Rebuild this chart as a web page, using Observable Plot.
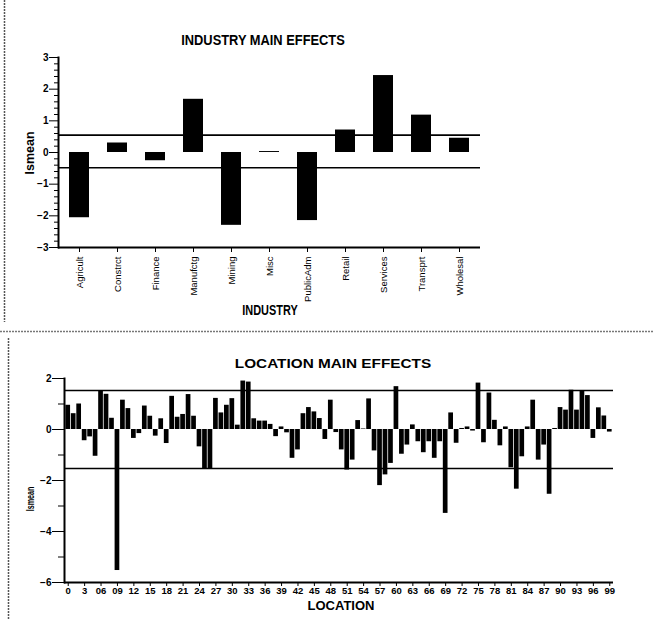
<!DOCTYPE html>
<html>
<head>
<meta charset="utf-8">
<script src="https://cdn.jsdelivr.net/npm/d3@7"></script>
<script src="https://cdn.jsdelivr.net/npm/@observablehq/plot@0.6"></script>
<style>
  html, body { margin: 0; padding: 0; background: #fff; }
  #page { position: relative; width: 654px; height: 619px; overflow: hidden; background: #fff; }
  #page svg.plot { position: absolute; left: 0; }
  #top { top: 0; }
  #bottom { top: 330px; }
  #overlay { position: absolute; left: 0; top: 0; pointer-events: none; }
</style>
</head>
<body>
<div id="page">
  <svg id="overlay" width="654" height="619" xmlns="http://www.w3.org/2000/svg"
       font-family="'Liberation Sans', Arial, sans-serif" font-weight="bold" fill="#000">
    <line x1="4.5" y1="0" x2="4.5" y2="322" stroke="#555" stroke-width="1.5" stroke-dasharray="2 1"/>
    <line x1="0" y1="331.5" x2="654" y2="331.5" stroke="#777" stroke-width="1.5" stroke-dasharray="2 1"/>
    <line x1="8.5" y1="338" x2="8.5" y2="619" stroke="#555" stroke-width="1.5" stroke-dasharray="2 1"/>
    <text transform="translate(263,44.5) scale(0.83,1)" text-anchor="middle" font-size="15.5">INDUSTRY MAIN EFFECTS</text>
    <text transform="translate(34,153) rotate(-90)" text-anchor="middle" font-size="12.5">lsmean</text>
    <text transform="translate(270,315) scale(0.78,1)" text-anchor="middle" font-size="14">INDUSTRY</text>
    <text transform="translate(333,367.5) scale(1.18,1)" text-anchor="middle" font-size="13">LOCATION MAIN EFFECTS</text>
    <text transform="translate(33.5,499) rotate(-90) scale(0.65,1)" text-anchor="middle" font-size="11">lsmean</text>
    <text transform="translate(341,610)" text-anchor="middle" font-size="13">LOCATION</text>
  </svg>
</div>
<script>
// ---------- INDUSTRY MAIN EFFECTS ----------
const industries = ["Agricult", "Constrct", "Finance", "Manufctg", "Mining", "Misc",
                    "PublicAdm", "Retail", "Services", "Transprt", "Wholesal"];
const industryLsmean = [-2.06, 0.30, -0.26, 1.68, -2.30, 0.03, -2.15, 0.71, 2.43, 1.18, 0.45];
const industryRefLines = [0.55, -0.48];
const industryYTicks = [-3, -2, -1, 0, 1, 2, 3];
const industryYMinorTicks = [-2.8, -2.6, -2.4, -2.2, -1.8, -1.6, -1.4, -1.2, -0.8, -0.6, -0.4, -0.2,
                             0.2, 0.4, 0.6, 0.8, 1.2, 1.4, 1.6, 1.8, 2.2, 2.4, 2.6, 2.8];

// ---------- LOCATION MAIN EFFECTS ----------
const locationIds = d3.range(100);
const locationLsmean = [
   0.95,  0.62,  1.00, -0.44, -0.29, -1.05,  1.50,  1.38,  0.44, -5.53,
   1.15,  0.82, -0.35, -0.16,  0.92,  0.52, -0.26,  0.42, -0.55,  1.30,
   0.48,  0.59,  1.37,  0.52, -0.68, -1.53, -1.53,  1.22,  0.65,  0.95,
   1.21,  0.17,  1.90,  1.86,  0.42,  0.33,  0.33,  0.20, -0.28,  0.10,
  -0.13, -1.13, -0.80,  0.62,  0.86,  0.69,  0.43, -0.39,  1.15, -0.12,
  -0.80, -1.59, -1.20,  0.35,  0.02,  1.20, -0.84, -2.20, -1.78, -1.33,
   1.68, -0.97, -0.61,  0.18, -0.48, -0.91, -0.48, -1.13, -0.48, -3.29,
   0.65, -0.54,  0.04,  0.10, -0.06,  1.82, -0.52,  1.43,  0.36, -0.64,
   0.10, -1.50, -2.34, -1.07,  0.10,  1.15, -1.20, -0.61, -2.54,  0.04,
   0.86,  0.76,  1.54,  0.76,  1.50,  1.33, -0.35,  0.85,  0.53, -0.10
];
const locationRefLines = [1.53, -1.53];
const locationTickIds = [0, 3, 6, 9, 12, 15, 18, 21, 24, 27, 30, 33, 36, 39, 42, 45, 48,
                         51, 54, 57, 60, 63, 66, 69, 72, 75, 78, 81, 84, 87, 90, 93, 96, 99];
const locationTickLabels = ["0", "3", "06", "09", "12", "15", "18", "21", "24", "27", "30", "33",
                            "36", "39", "42", "45", "48", "51", "54", "57", "60", "63", "66", "69",
                            "72", "75", "78", "81", "84", "87", "90", "93", "96", "99"];
const locationYTicks = [-6, -4, -2, 0, 2];
const locationYMinorTicks = [-5, -3, -1, 1];

const FONT = "'Liberation Sans', Arial, sans-serif";

const industryData = industries.map((name, i) => ({industry: name, lsmean: industryLsmean[i]}));
const locationData = locationIds.map((id, i) => ({location: id, lsmean: locationLsmean[i]}));

const blank = () => "";

const topChart = Plot.plot({
  width: 654, height: 330,
  marginTop: 57, marginBottom: 83, marginLeft: 58, marginRight: 174,
  style: {fontFamily: FONT, background: "transparent", color: "#000"},
  x: {type: "band", domain: industries, paddingInner: 0.48, paddingOuter: 0.26},
  y: {domain: [-3, 3]},
  marks: [
    Plot.barY(industryData, {x: "industry", y: "lsmean", fill: "black"}),
    Plot.ruleY(industryRefLines, {stroke: "black", strokeWidth: 1.6}),
    Plot.ruleY([-3], {stroke: "black", strokeWidth: 2}),
    Plot.frame({anchor: "left", stroke: "black", strokeWidth: 2}),
    Plot.axisY(industryYMinorTicks, {tickSize: 4, tickFormat: blank, label: null, stroke: "black"}),
    Plot.axisY(industryYTicks, {tickSize: 9, tickPadding: 1, fontSize: 10, fontWeight: "bold", label: null, stroke: "black"}),
    Plot.axisX({tickRotate: -90, tickSize: 5, tickPadding: 4, fontSize: 9.5, label: null, stroke: "black"})
  ]
});
topChart.setAttribute("class", (topChart.getAttribute("class") || "") + " plot");
topChart.id = "top";

const bottomChart = Plot.plot({
  width: 654, height: 289,
  marginTop: 48, marginBottom: 37, marginLeft: 64, marginRight: 41,
  style: {fontFamily: FONT, background: "transparent", color: "#000"},
  x: {type: "band", domain: locationIds, paddingInner: 0.14, paddingOuter: 0.25},
  y: {domain: [-6, 2]},
  marks: [
    Plot.barY(locationData, {x: "location", y: "lsmean", fill: "black"}),
    Plot.ruleY(locationRefLines, {stroke: "black", strokeWidth: 1.5}),
    Plot.ruleY([-6], {stroke: "black", strokeWidth: 2}),
    Plot.frame({anchor: "left", stroke: "black", strokeWidth: 2}),
    Plot.axisY(locationYMinorTicks, {tickSize: 6, tickFormat: blank, label: null, stroke: "black"}),
    Plot.axisY(locationYTicks, {tickSize: 12, tickPadding: 1, fontSize: 10, fontWeight: "bold", label: null, stroke: "black"}),
    Plot.axisX(locationTickIds, {
      tickSize: 4, tickPadding: 1, fontSize: 9.5, fontWeight: "bold", label: null, stroke: "black",
      tickFormat: d => locationTickLabels[locationTickIds.indexOf(d)]
    })
  ]
});
bottomChart.setAttribute("class", (bottomChart.getAttribute("class") || "") + " plot");
bottomChart.id = "bottom";

const page = document.getElementById("page");
const overlay = document.getElementById("overlay");
page.insertBefore(topChart, overlay);
page.insertBefore(bottomChart, overlay);
</script>
</body>
</html>
